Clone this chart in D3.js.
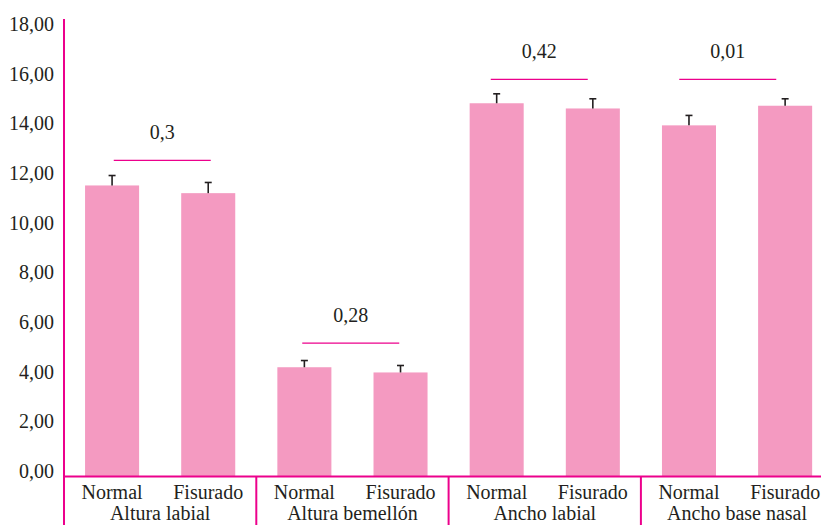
<!DOCTYPE html>
<html><head><meta charset="utf-8">
<script src="https://cdn.jsdelivr.net/npm/d3@7"></script>
<style>body{margin:0;background:#fff}svg{display:block}</style>
</head><body><svg id="c" width="821" height="525" font-family="'Liberation Serif', 'DejaVu Serif', serif"></svg>
<script>
const groups = ["Altura labial","Altura bemellón","Ancho labial","Ancho base nasal"];
const subgroups = ["Normal","Fisurado"];
const normalVals = [11.72, 4.40, 15.03, 14.14];
const fisuradoVals = [11.41, 4.19, 14.82, 14.93];
const normalErr = [0.40, 0.27, 0.38, 0.40];
const fisuradoErr = [0.43, 0.28, 0.39, 0.28];
const pValues = ["0,3","0,28","0,42","0,01"];
const pLineLevel = [12.73, 5.37, 15.99, 15.99];
const yTicks = [0,2,4,6,8,10,12,14,16,18];

const FONT = "'Liberation Serif', 'DejaVu Serif', serif";
const svg = d3.select("#c");
const pink = "#f49ac1", mag = "#ec008c", dark = "#231f20";
const y = d3.scaleLinear().domain([0,18]).range([476.5,29.5]);
const x0 = d3.scaleBand().domain(groups).range([64, 64+4*192.3]).padding(0);
const x1 = d3.scaleBand().domain(subgroups).range([0, x0.bandwidth()]).paddingInner(0.438).paddingOuter(0.219);
const xa = d3.scaleBand().domain(groups).range([68, 822]);

const data = [];
groups.forEach((g,i)=>{
  data.push({g, s:"Normal", v:normalVals[i], e:normalErr[i]});
  data.push({g, s:"Fisurado", v:fisuradoVals[i], e:fisuradoErr[i]});
});
const cxOf = d => x0(d.g)+x1(d.s)+x1.bandwidth()/2;

// bars
svg.selectAll("rect.bar").data(data).join("rect").attr("class","bar")
  .attr("x", d=>x0(d.g)+x1(d.s)).attr("width", x1.bandwidth())
  .attr("y", d=>y(d.v)).attr("height", d=>y(0)-y(d.v)).attr("fill", pink);

// error bars
const eg = svg.selectAll("g.err").data(data).join("g").attr("class","err");
eg.append("line").attr("x1",cxOf).attr("x2",cxOf)
  .attr("y1",d=>y(d.v)).attr("y2",d=>y(d.v+d.e)).attr("stroke",dark).attr("stroke-width",1.6);
eg.append("line").attr("x1",d=>cxOf(d)-3.5).attr("x2",d=>cxOf(d)+3.5)
  .attr("y1",d=>y(d.v+d.e)).attr("y2",d=>y(d.v+d.e)).attr("stroke",dark).attr("stroke-width",1.6);

function txt(x, yy, s, anchor){
  return svg.append("text").attr("x",x).attr("y",yy).attr("text-anchor",anchor||"middle")
    .attr("font-family",FONT).attr("font-size",20).attr("fill",dark).text(s);
}

// significance lines and p values
groups.forEach((g,i)=>{
  const cx = xa(g)+xa.bandwidth()/2;
  svg.append("line").attr("x1",cx-48.5).attr("x2",cx+48.5).attr("y1",y(pLineLevel[i])).attr("y2",y(pLineLevel[i]))
    .attr("stroke",mag).attr("stroke-width",1.3);
  txt(cx, y(pLineLevel[i])-21, pValues[i]);
});

// y axis
const yAxis = d3.axisLeft(y).tickValues(yTicks).tickSize(0).tickPadding(10)
  .tickFormat(d=>d3.format(".2f")(d).replace(".",","));
const ya = svg.append("g").attr("transform","translate(64,0)").call(yAxis)
  .attr("font-family",FONT).attr("font-size",20);
ya.select(".domain").remove();
ya.selectAll("text").attr("fill",dark).attr("dy","0.05em").attr("x",-10);
svg.append("line").attr("x1",64).attr("x2",64).attr("y1",19).attr("y2",525).attr("stroke",mag).attr("stroke-width",2);

// x axis
svg.append("line").attr("x1",64).attr("x2",821).attr("y1",y(0)).attr("y2",y(0)).attr("stroke",mag).attr("stroke-width",2);
groups.slice(1).forEach(g=>{
  svg.append("line").attr("x1",x0(g)).attr("x2",x0(g)).attr("y1",y(0)).attr("y2",525).attr("stroke",mag).attr("stroke-width",2);
});
data.forEach(d=>{ txt(cxOf(d), 499, d.s); });
groups.forEach(g=>{ txt(x0(g)+x0.bandwidth()/2, 520, g); });
</script></body></html>
